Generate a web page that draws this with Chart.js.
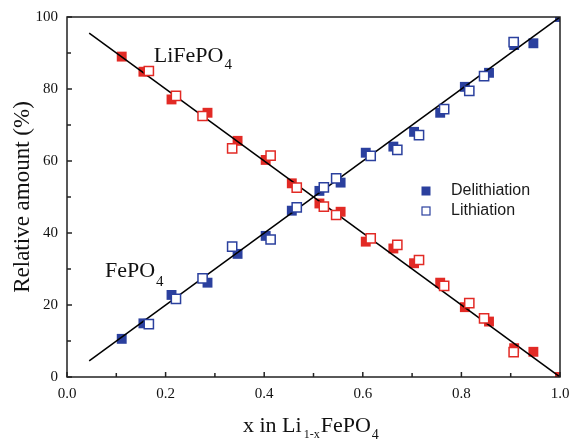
<!DOCTYPE html>
<html>
<head>
<meta charset="utf-8">
<script src="https://cdn.jsdelivr.net/npm/chart.js@4/dist/chart.umd.min.js"></script>
<style>
  html, body { margin: 0; padding: 0; background: #fff; }
  #wrap { width: 573px; height: 440px; }
</style>
</head>
<body>
<div id="wrap"><canvas id="chart" width="573" height="440"></canvas></div>
<script>
// delithiation (filled squares)
const xDelith = [0.111, 0.155, 0.212, 0.285, 0.346, 0.403, 0.456, 0.512, 0.555, 0.606, 0.662, 0.704, 0.757, 0.807, 0.856, 0.907, 0.946, 1.0];
const lfpDelith = [89.0, 84.8, 77.1, 73.4, 65.6, 60.3, 53.8, 48.2, 45.9, 37.6, 35.7, 31.6, 26.2, 19.4, 15.4, 8.0, 7.0, 0];
const fpDelith = [10.6, 14.9, 22.8, 26.2, 34.2, 39.2, 46.2, 51.7, 54.0, 62.3, 64.0, 68.1, 73.4, 80.6, 84.5, 92.2, 92.7, 100];

// lithiation (open squares)
const xLith = [0.166, 0.221, 0.275, 0.335, 0.413, 0.466, 0.521, 0.546, 0.616, 0.670, 0.714, 0.765, 0.816, 0.846, 0.906];
const lfpLith = [85.0, 78.1, 72.5, 63.5, 61.5, 52.6, 47.3, 45.0, 38.5, 36.7, 32.5, 25.3, 20.5, 16.3, 6.9];
const fpLith = [14.7, 21.7, 27.4, 36.2, 38.2, 47.1, 52.7, 55.2, 61.4, 63.1, 67.2, 74.4, 79.5, 83.6, 93.0];

// straight guide lines
const fitX = [0.045, 1.0];
const lfpFit = [95.5, 0];
const fpFit = [4.5, 100];

const xTicks = [0.0, 0.2, 0.4, 0.6, 0.8, 1.0];
const yTicks = [0, 20, 40, 60, 80, 100];

const RED = '#e22a25';
const BLUE = '#2b409e';
const SERIF = "'Liberation Serif', 'Times New Roman', serif";
const SANS = "'Liberation Sans', Arial, sans-serif";

const pts = (xs, ys) => xs.map((x, i) => ({ x: x, y: ys[i] }));

function drawSubText(ctx, x, y, parts) {
    // parts: [text, size, dy, gap]
    parts.forEach(p => {
        ctx.font = p[1] + 'px ' + SERIF;
        ctx.fillText(p[0], x, y + p[2]);
        x += ctx.measureText(p[0]).width + (p[3] || 0);
    });
}

const decorations = {
    id: 'decorations',
    afterDraw(chart) {
        const ctx = chart.ctx;
        const a = chart.chartArea;
        const xs = chart.scales.x, ys = chart.scales.y;
        ctx.save();
        ctx.strokeStyle = '#222';
        ctx.lineWidth = 1.5;
        // inward ticks
        xs.ticks.forEach(t => {
            const px = xs.getPixelForValue(t.value);
            const major = xTicks.some(v => Math.abs(v - t.value) < 1e-6);
            ctx.beginPath();
            ctx.moveTo(px, a.bottom);
            ctx.lineTo(px, a.bottom - (major ? 5 : 4));
            ctx.stroke();
        });
        ys.ticks.forEach(t => {
            const py = ys.getPixelForValue(t.value);
            const major = yTicks.includes(t.value);
            ctx.beginPath();
            ctx.moveTo(a.left, py);
            ctx.lineTo(a.left + (major ? 5 : 4), py);
            ctx.stroke();
        });
        // frame
        ctx.strokeRect(a.left, a.top, a.right - a.left, a.bottom - a.top);

        // axis titles
        ctx.fillStyle = '#111';
        ctx.textBaseline = 'alphabetic';
        ctx.textAlign = 'left';
        drawSubText(ctx, 243, 432, [['x in Li', 22, 0, 2], ['1-x', 12, 6, 1], ['FePO', 22, 0, 1], ['4', 14, 7]]);

        ctx.save();
        ctx.translate(23, (a.top + a.bottom) / 2);
        ctx.rotate(-Math.PI / 2);
        ctx.font = '23px ' + SERIF;
        ctx.textAlign = 'center';
        ctx.textBaseline = 'middle';
        ctx.fillText('Relative amount (%)', 0, 0);
        ctx.restore();

        // phase labels
        ctx.textAlign = 'left';
        ctx.textBaseline = 'alphabetic';
        drawSubText(ctx, xs.getPixelForValue(0.176), ys.getPixelForValue(87.5), [['LiFePO', 22, 0, 1], ['4', 15, 7]]);
        drawSubText(ctx, xs.getPixelForValue(0.077), ys.getPixelForValue(27.8), [['FePO', 22, 0, 1], ['4', 15, 9]]);

        // legend
        const lx = 426, ly1 = 191, ly2 = 211, s = 9;
        ctx.fillStyle = BLUE;
        ctx.fillRect(lx - s / 2, ly1 - s / 2, s, s);
        ctx.fillStyle = '#fff';
        ctx.strokeStyle = BLUE;
        ctx.lineWidth = 1.2;
        ctx.fillRect(lx - s / 2, ly2 - s / 2, s, s);
        ctx.strokeRect(lx - s / 2 + 0.5, ly2 - s / 2 + 0.5, s - 1, s - 1);
        ctx.fillStyle = '#1a1a1a';
        ctx.font = '16px ' + SANS;
        ctx.textBaseline = 'middle';
        ctx.fillText('Delithiation', 451, ly1);
        ctx.fillText('Lithiation', 451, ly2);
        ctx.restore();
    }
};

const filled = (data, color) => ({
    data: data,
    pointStyle: 'rect',
    pointRadius: 7,
    pointHoverRadius: 7,
    pointBackgroundColor: color,
    pointBorderColor: color,
    pointBorderWidth: 0,
    showLine: false,
    clip: 0,
    order: 3
});

const open = (data, color) => ({
    data: data,
    pointStyle: 'rect',
    pointRadius: 6.5,
    pointHoverRadius: 6.5,
    pointBackgroundColor: '#fff',
    pointBorderColor: color,
    pointBorderWidth: 1.5,
    showLine: false,
    clip: 0,
    order: 1
});

const fitLine = data => ({
    data: data,
    showLine: true,
    borderColor: '#000',
    borderWidth: 1.5,
    pointRadius: 0,
    fill: false,
    clip: 0,
    order: 2
});

new Chart(document.getElementById('chart'), {
    type: 'scatter',
    data: {
        datasets: [
            filled(pts(xDelith, lfpDelith), RED),
            filled(pts(xDelith, fpDelith), BLUE),
            fitLine(pts(fitX, lfpFit)),
            fitLine(pts(fitX, fpFit)),
            open(pts(xLith, lfpLith), RED),
            open(pts(xLith, fpLith), BLUE)
        ]
    },
    options: {
        responsive: false,
        animation: false,
        events: [],
        layout: {
            padding: { top: 17, right: 13, left: 0, bottom: 0 }
        },
        plugins: {
            legend: { display: false },
            tooltip: { enabled: false }
        },
        scales: {
            x: {
                type: 'linear',
                min: 0,
                max: 1,
                afterFit: s => { s.height = 63; s.paddingLeft = 0; s.paddingRight = 0; },
                grid: { display: false, drawTicks: false },
                border: { display: false },
                ticks: {
                    stepSize: 0.1,
                    padding: 8,
                    color: '#111',
                    font: { family: SERIF, size: 15 },
                    callback: v => xTicks.some(t => Math.abs(t - v) < 1e-6) ? v.toFixed(1) : ''
                }
            },
            y: {
                type: 'linear',
                min: 0,
                max: 100,
                afterFit: s => { s.width = 67; s.paddingTop = 0; s.paddingBottom = 0; },
                grid: { display: false, drawTicks: false },
                border: { display: false },
                ticks: {
                    stepSize: 10,
                    padding: 9,
                    color: '#111',
                    font: { family: SERIF, size: 15 },
                    callback: v => yTicks.includes(v) ? String(v) : ''
                }
            }
        }
    },
    plugins: [decorations]
});
</script>
</body>
</html>
